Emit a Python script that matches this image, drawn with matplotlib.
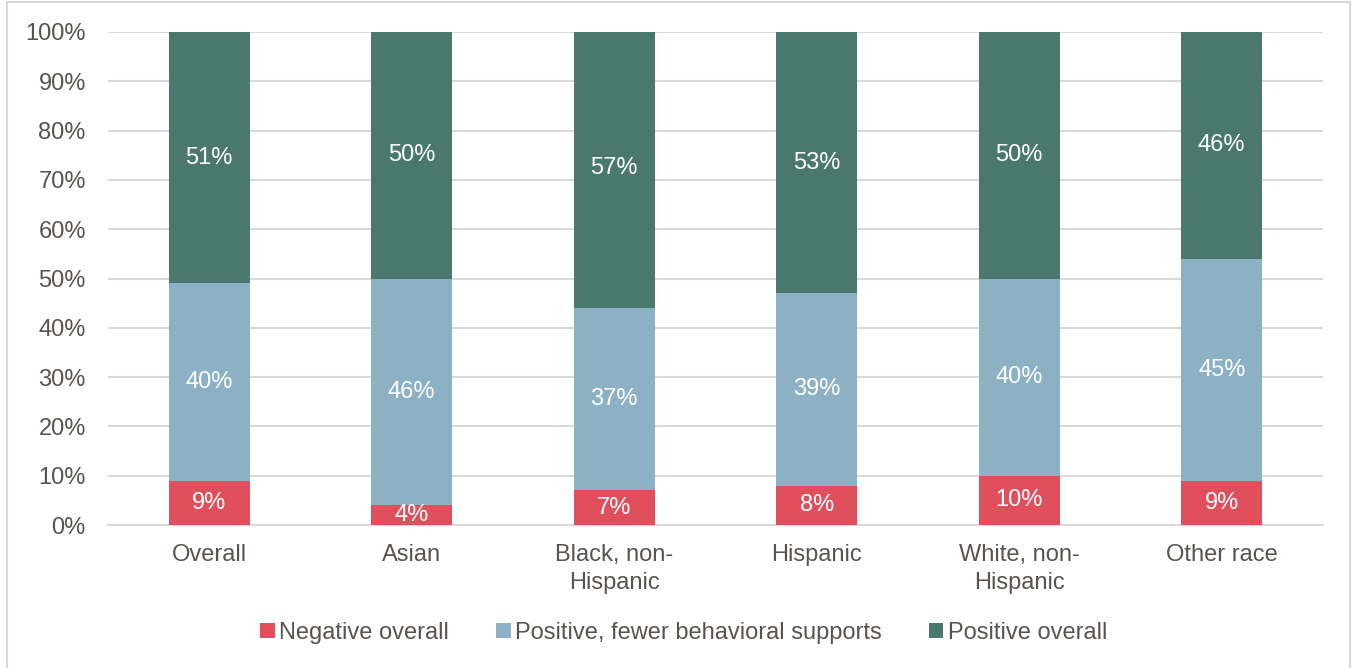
import matplotlib.pyplot as plt
from matplotlib.patches import Rectangle
import numpy as np

plt.rcParams['font.family'] = ['Liberation Sans', 'DejaVu Sans']

groups = ['Overall', 'Asian', 'Black, non-\nHispanic', 'Hispanic', 'White, non-\nHispanic', 'Other race']
negative = [9, 4, 7, 8, 10, 9]
positive_fewer = [40, 46, 37, 39, 40, 45]
positive = [51, 50, 57, 53, 50, 46]

series = [
    ('Negative overall', negative, '#e04f5c'),
    ('Positive, fewer behavioral supports', positive_fewer, '#8db1c4'),
    ('Positive overall', positive, '#4b786d'),
]

text_color = '#595350'
grid_color = '#d9d9d9'
fs = 17

fig = plt.figure(figsize=(13.54, 6.68), dpi=100)
ax = fig.add_axes([108 / 1354, 1 - 525 / 668, 1215 / 1354, 493 / 668])

x = np.arange(len(groups))
bottom = np.zeros(len(groups))
for name, vals, color in series:
    vals = np.array(vals, dtype=float)
    ax.bar(x, vals, bottom=bottom, width=0.4, color=color, label=name, zorder=3)
    for xi, b, v in zip(x, bottom, vals):
        ax.text(xi, b + v / 2, f'{v:.0f}%', ha='center', va='center',
                color='white', fontsize=fs, zorder=4)
    bottom += vals

ax.set_xlim(-0.5, len(groups) - 0.5)
ax.set_ylim(0, 100)
ax.set_yticks(np.arange(0, 101, 10))
ax.set_yticklabels([f'{t}%' for t in range(0, 101, 10)])
ax.set_xticks(x)
ax.set_xticklabels(groups, linespacing=1.3)
ax.tick_params(axis='both', length=0, labelsize=fs, labelcolor=text_color)
ax.tick_params(axis='y', pad=16)
ax.tick_params(axis='x', pad=14)

ax.yaxis.grid(True, color=grid_color, linewidth=1.5, zorder=0)
for side in ['top', 'right', 'left']:
    ax.spines[side].set_visible(False)
ax.spines['bottom'].set_color(grid_color)
ax.spines['bottom'].set_linewidth(1.5)

fig.legend(loc='center', bbox_to_anchor=(684 / 1354, 1 - 633 / 668), ncol=3,
           frameon=False, fontsize=fs, labelcolor=text_color,
           handlelength=0.6, handleheight=0.6, handletextpad=0.2, columnspacing=2.0)

# light outer border
fig.patches.append(Rectangle((7 / 1354, -0.01), 1343 / 1354, 1 - 2 / 668 + 0.01,
                             transform=fig.transFigure, fill=False,
                             edgecolor=grid_color, linewidth=1.5))

fig.savefig('out.png', dpi=100)
